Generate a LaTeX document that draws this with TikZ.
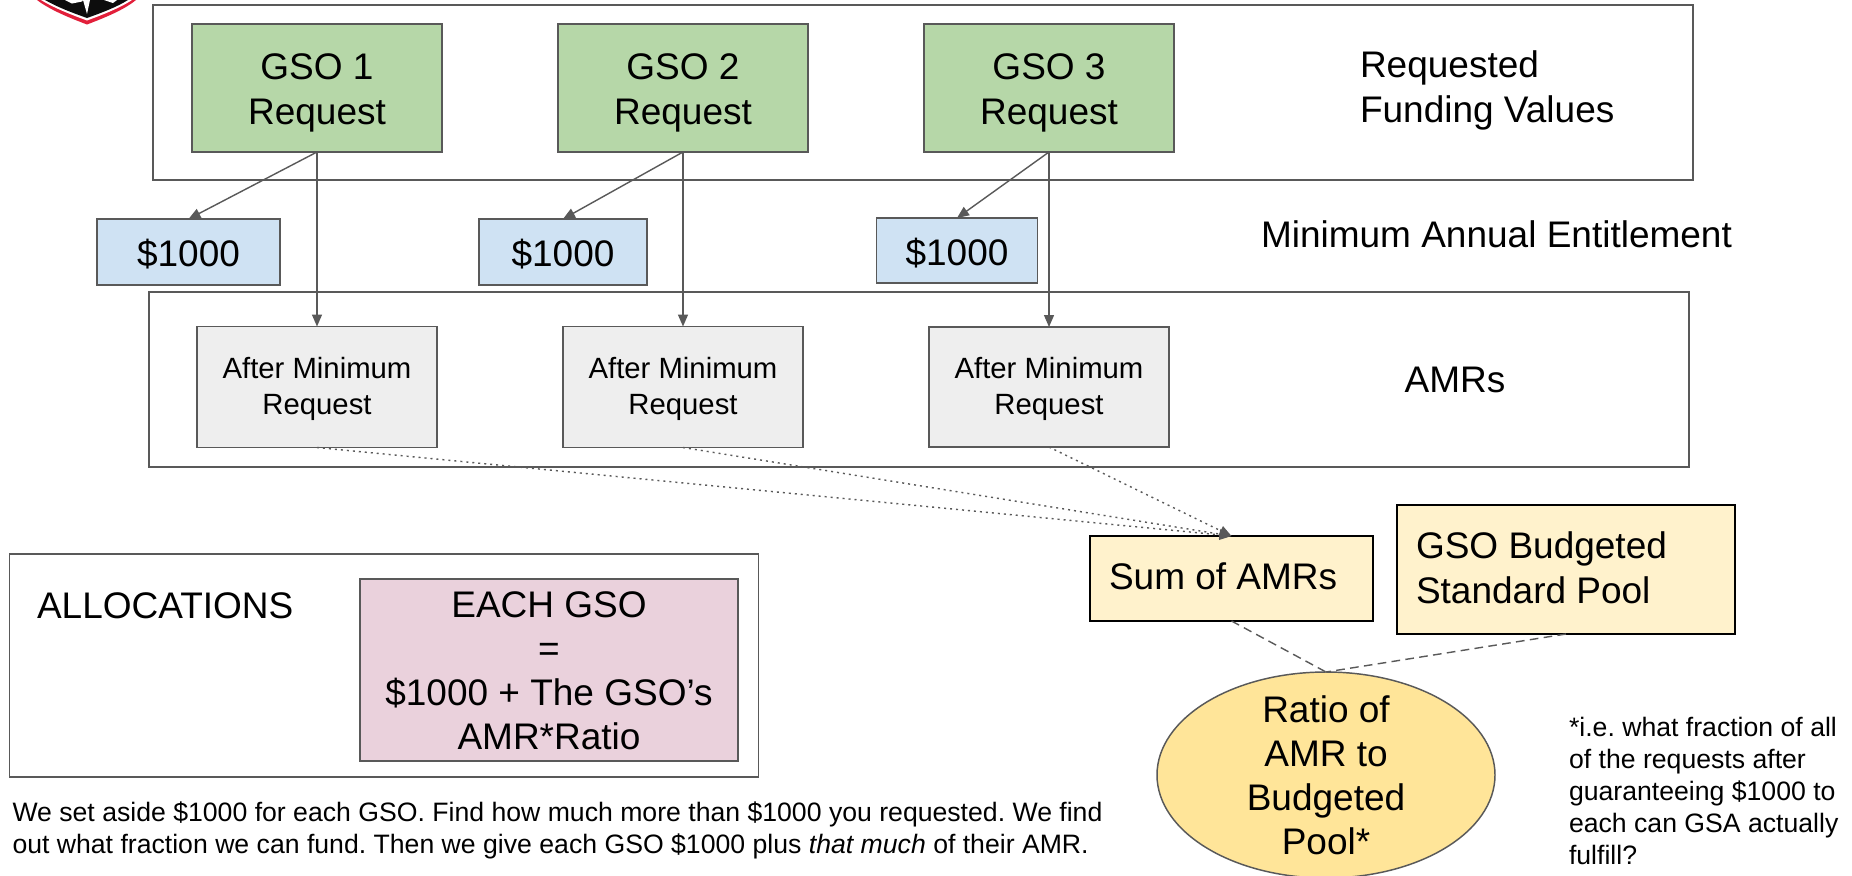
\documentclass[tikz,border=0pt]{standalone}
\usepackage{fontspec}
\setmainfont{Liberation Sans}
\usetikzlibrary{arrows.meta,shapes.geometric}
\newdimen\pxu \pxu=0.75pt
\frenchspacing
% font size in px, line spacing in px
\newcommand{\fsz}[2]{\fontsize{#1\pxu}{#2\pxu}\selectfont\frenchspacing}
% centred lines, first baseline at node centre + #1 px
\newcommand{\clines}[2]{\smash{\raisebox{-#1\pxu}{\vtop{\halign{\hfil##\hfil\cr #2\crcr}}}}}
% left lines in a box #1 px wide, inset #2 px, first baseline at centre + #3 px
\newcommand{\llines}[4]{\makebox[#1\pxu][l]{\hskip #2\pxu\smash{\raisebox{-#3\pxu}{\vtop{\halign{##\hfil\cr #4\crcr}}}}}}
\newcommand{\flines}[1]{\vtop{\halign{##\hfil\cr #1\crcr}}}
\definecolor{stroke}{HTML}{595959}
\definecolor{cgreen}{HTML}{B6D7A8}
\definecolor{cblue}{HTML}{CFE2F3}
\definecolor{cgrey}{HTML}{EEEEEE}
\definecolor{cpink}{HTML}{EAD1DC}
\definecolor{cyel}{HTML}{FFF2CC}
\definecolor{cgold}{HTML}{FFE599}
\definecolor{logored}{HTML}{E21F3A}
\tikzset{
  sz/.style 2 args={minimum width=#1*0.75pt,minimum height=#2*0.75pt},
  base/.style={rectangle,inner sep=0pt,outer sep=0pt,line width=1.25pt},
  frame/.style={base,draw=stroke},
  gso/.style={base,draw=stroke,fill=cgreen,font=\fsz{37}{44.5}},
  minbox/.style={base,draw=stroke,fill=cblue,font=\fsz{37}{44.5}},
  amr/.style={base,draw=stroke,fill=cgrey,font=\fsz{29.3}{36}},
  alloc/.style={base,draw=stroke,fill=cpink,font=\fsz{37}{44}},
  pool/.style={base,draw=black,fill=cyel,font=\fsz{37}{45}},
  ratio/.style={ellipse,inner sep=0pt,outer sep=0pt,draw=stroke,line width=1.1pt,fill=cgold,font=\fsz{37}{44}},
  big/.style={inner sep=0pt,outer sep=0pt,font=\fsz{37}{44.5}},
  small/.style={inner sep=0pt,outer sep=0pt,font=\fsz{26.63}{32}},
  conn/.style={draw=stroke,line width=1.05pt,-{Triangle[length=9pt,width=7.5pt]}},
  dotline/.style={conn,dash pattern=on 1.5pt off 3pt},
  dashline/.style={draw=stroke,line width=1.05pt,dash pattern=on 6.5pt off 4pt},
}
\begin{document}
\begin{tikzpicture}[x=0.75pt,y=-0.75pt]
\useasboundingbox (0,0) rectangle (1852,875);
\clip (0,0) rectangle (1852,875);
\fill[white] (0,0) rectangle (1852,875);
% logo remnant
\fill[logored] (37,0) .. controls (50,10) and (70,18) .. (87,24.5) .. controls (104,18) and (124,10) .. (136,0) -- cycle;
\fill[white] (41,0) .. controls (54,8) and (72,15) .. (87,20.5) .. controls (102,15) and (120,8) .. (132,0) -- cycle;
\fill[black!95] (45,0) .. controls (57,7) and (73,13) .. (87,18) .. controls (101,13) and (117,7) .. (128,0) -- cycle;
\fill[white] (83,0) -- (87,14) -- (90,0) -- cycle;
\fill[white] (65,0) -- (72,3.5) -- (82,1.5) -- (83,0) -- cycle;
\fill[white] (104,0) -- (113,3) -- (117,0) -- cycle;
% group frames
\node[frame,sz={1540}{175}] (reqframe) at (923,92.5) {};
\node[frame,sz={1540}{175}] (amrframe) at (919,379.5) {};
\node[frame,sz={749}{223}] (allocframe) at (384,665.5) {};
% request boxes
\node[gso,sz={250}{128}] (g1) at (317,88) {\clines{-8.5}{GSO 1\cr Request}};
\node[gso,sz={250}{128}] (g2) at (683,88) {\clines{-8.5}{GSO 2\cr Request}};
\node[gso,sz={250}{128}] (g3) at (1049,88) {\clines{-8.5}{GSO 3\cr Request}};
% minimum boxes
\node[minbox,sz={183}{66}] (m1) at (188.5,252) {\clines{14}{\$1000}};
\node[minbox,sz={168}{66}] (m2) at (563,252) {\clines{14}{\$1000}};
\node[minbox,sz={161}{65}] (m3) at (957,250.5) {\clines{15}{\$1000}};
% after-minimum boxes
\node[amr,sz={240}{121}] (a1) at (317,387) {\clines{-9}{After Minimum\cr Request}};
\node[amr,sz={240}{121}] (a2) at (683,387) {\clines{-9}{After Minimum\cr Request}};
\node[amr,sz={240}{120}] (a3) at (1049,387) {\clines{-9}{After Minimum\cr Request}};
% right column
\node[pool,sz={283}{85}] (sum) at (1231.5,578.5) {\llines{283}{19}{10.5}{Sum of AMRs}};
\node[pool,sz={338}{129}] (budget) at (1566,569.5) {\llines{338}{19}{-11}{GSO Budgeted\cr Standard Pool}};
\node[ratio,sz={338}{206}] (ratio) at (1326,775) {\clines{-53}{Ratio of\cr AMR to\cr Budgeted\cr Pool*}};
% allocation
\node[alloc,sz={378}{182}] (each) at (549,670) {\clines{-53}{EACH GSO\cr =\cr \$1000 + The GSO’s\cr AMR*Ratio}};
% labels
\node[big,anchor=base west] (l1) at (1360,77.5) {\flines{Requested\cr Funding Values}};
\node[big,anchor=base west] (l2) at (1261,247) {Minimum Annual Entitlement};
\node[big,anchor=base] (l3) at (1455,392) {AMRs};
\node[big,anchor=base west] (l4) at (37,618) {ALLOCATIONS};
\node[small,anchor=base west] (note) at (12.5,821) {\flines{We set aside \$1000 for each GSO. Find how much more than \$1000 you requested. We find\cr out what fraction we can fund. Then we give each GSO \$1000 plus \emph{that much} of their AMR.}};
\node[small,anchor=base west] (star) at (1569,736.5) {\flines{*i.e. what fraction of all\cr of the requests after\cr guaranteeing \$1000 to\cr each can GSA actually\cr fulfill?}};
% connectors
\draw[conn] (g1.south) -- (m1.north);
\draw[conn] (g2.south) -- (m2.north);
\draw[conn] (g3.south) -- (m3.north);
\draw[conn] (g1.south) -- (a1.north);
\draw[conn] (g2.south) -- (a2.north);
\draw[conn] (g3.south) -- (a3.north);
\draw[dotline] (a1.south) -- (sum.north);
\draw[dotline] (a2.south) -- (sum.north);
\draw[dotline] (a3.south) -- (sum.north);
\draw[dashline] (sum.south) -- (ratio.north);
\draw[dashline] (budget.south) -- (ratio.north);
\end{tikzpicture}
\end{document}
